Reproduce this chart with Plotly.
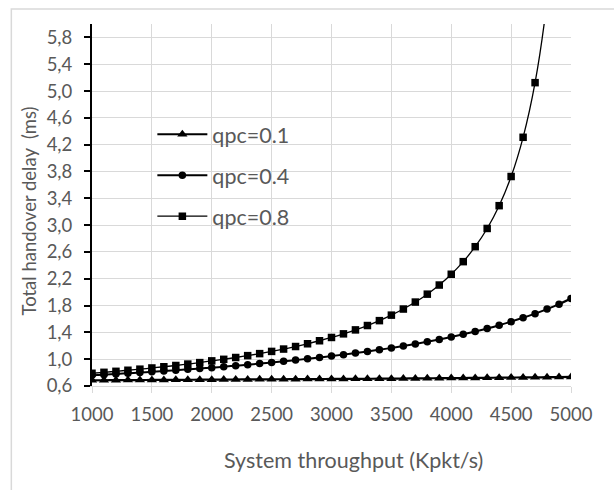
import plotly.graph_objects as go

throughput = [1000, 1100, 1200, 1300, 1400, 1500, 1600, 1700, 1800, 1900,
              2000, 2100, 2200, 2300, 2400, 2500, 2600, 2700, 2800, 2900,
              3000, 3100, 3200, 3300, 3400, 3500, 3600, 3700, 3800, 3900,
              4000, 4100, 4200, 4300, 4400, 4500, 4600, 4700, 4800, 4900, 5000]

delay_q01 = [0.685, 0.686, 0.687, 0.688, 0.689, 0.690, 0.691, 0.692, 0.693, 0.694,
             0.695, 0.696, 0.697, 0.698, 0.699, 0.700, 0.701, 0.702, 0.703, 0.704,
             0.705, 0.706, 0.707, 0.708, 0.709, 0.710, 0.712, 0.713, 0.715, 0.716,
             0.718, 0.719, 0.721, 0.722, 0.724, 0.726, 0.728, 0.729, 0.731, 0.733, 0.735]

delay_q04 = [0.760, 0.769, 0.779, 0.790, 0.801, 0.812, 0.823, 0.835, 0.848, 0.861,
             0.874, 0.888, 0.903, 0.918, 0.934, 0.950, 0.968, 0.986, 1.005, 1.025,
             1.046, 1.068, 1.091, 1.115, 1.141, 1.168, 1.197, 1.227, 1.260, 1.294,
             1.331, 1.371, 1.413, 1.458, 1.507, 1.560, 1.617, 1.679, 1.747, 1.821, 1.905]

delay_q08 = [0.790, 0.804, 0.819, 0.835, 0.851, 0.869, 0.887, 0.906, 0.927, 0.949,
             0.975, 0.998, 1.025, 1.053, 1.083, 1.116, 1.151, 1.189, 1.230, 1.275,
             1.324, 1.378, 1.437, 1.502, 1.575, 1.657, 1.748, 1.852, 1.970, 2.106,
             2.267, 2.455, 2.678, 2.950, 3.290, 3.725, 4.310, 5.125, 6.35, 8.35, 12.43]

series_names = ["qpc=0.1", "qpc=0.4", "qpc=0.8"]
x_title = "System throughput (Kpkt/s)"
y_title = "Total handover delay  (ms)"

TXT = "#595959"
GRID = "#d9d9d9"
FONT = "Lato, 'Open Sans', sans-serif"

fig = go.Figure()
fig.add_trace(go.Scatter(x=throughput, y=delay_q01, name=series_names[0], mode="lines+markers",
                         line=dict(color="black", width=2.2, shape="spline"),
                         marker=dict(symbol="triangle-up", size=9, color="black"),
                         legendgroup="a"))
fig.add_trace(go.Scatter(x=throughput, y=delay_q04, name=series_names[1], mode="lines+markers",
                         line=dict(color="black", width=2, shape="spline"),
                         marker=dict(symbol="circle", size=7.5, color="black"),
                         legendgroup="b"))
fig.add_trace(go.Scatter(x=throughput, y=delay_q08, name=series_names[2], mode="lines+markers",
                         line=dict(color="black", width=1.3, shape="spline"),
                         marker=dict(symbol="square", size=7.5, color="black"),
                         legendgroup="c"))

fig.update_layout(
    width=614, height=490,
    margin=dict(l=92, r=43, t=24, b=104),
    paper_bgcolor="white", plot_bgcolor="white",
    separators=", ",
    font=dict(family=FONT, color=TXT, size=18),
    showlegend=True,
    legend=dict(x=0.126, y=0.752, xanchor="left", yanchor="top",
                bgcolor="rgba(0,0,0,0)", font=dict(size=21.5, color=TXT, family=FONT),
                traceorder="grouped", tracegroupgap=10, itemwidth=50),
    shapes=[dict(type="rect", xref="paper", yref="paper",
                 x0=-0.1684, x1=1.11, y0=-0.31, y1=1.0414,
                 line=dict(color=GRID, width=1.5), layer="below")],
    annotations=[
        dict(text=x_title, xref="paper", yref="paper", x=0.545, y=-0.204,
             xanchor="center", yanchor="middle", showarrow=False,
             font=dict(size=21.5, color=TXT, family=FONT)),
        dict(text=y_title, xref="paper", yref="paper", x=-0.1308, y=0.483,
             xanchor="center", yanchor="middle", showarrow=False, textangle=-90,
             font=dict(size=18.5, color=TXT, family=FONT)),
    ],
)

fig.update_xaxes(
    range=[1000, 5000], tick0=1000, dtick=500, tickformat="d",
    showgrid=True, gridcolor=GRID, gridwidth=1.3,
    showline=True, linecolor=GRID, linewidth=1.3,
    ticks="outside", ticklen=6, tickcolor=GRID, tickwidth=1.3,
    ticklabelstandoff=6,
    tickfont=dict(size=18.5, color=TXT, family=FONT),
    zeroline=False, automargin=False,
)
fig.update_yaxes(
    range=[0.6, 6.0], tick0=0.6, dtick=0.4, tickformat=".1f",
    showgrid=True, gridcolor=GRID, gridwidth=1.3,
    showline=True, linecolor="black", linewidth=2,
    ticks="outside", ticklen=6, tickcolor="black", tickwidth=1.5,
    ticklabelstandoff=8,
    tickfont=dict(size=18.5, color=TXT, family=FONT),
    zeroline=False, automargin=False,
)

fig.write_html("out.html")
